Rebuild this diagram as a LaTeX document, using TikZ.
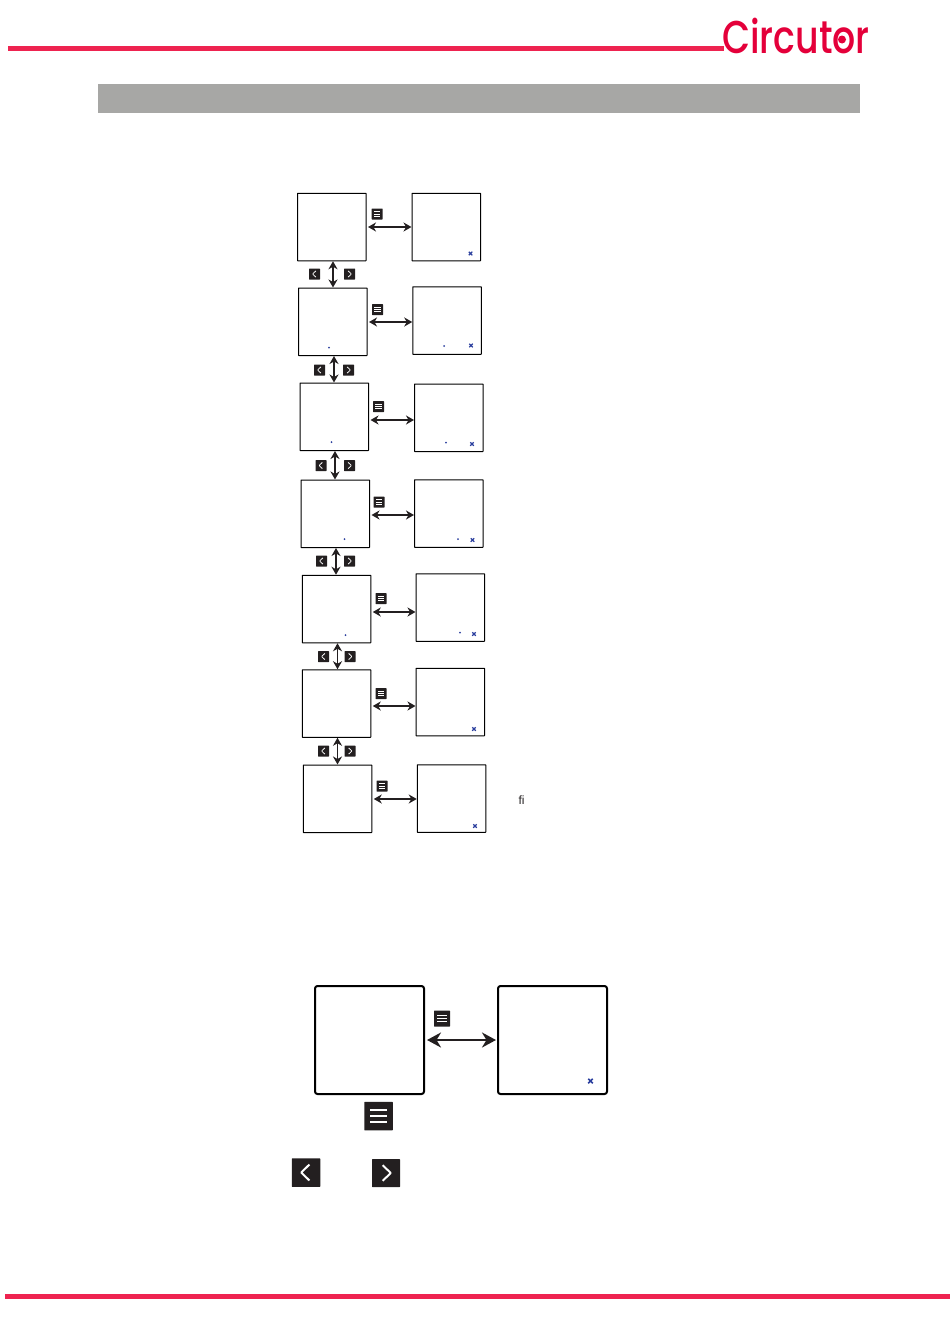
\documentclass[tikz,border=0pt]{standalone}
\usepackage{fontspec}
\setmainfont{Liberation Sans}
\newfontfamily\logofont{Poppins Medium}
\usepackage{xcolor}
\usetikzlibrary{arrows.meta, positioning, calc, shapes.misc}
\definecolor{circutred}{HTML}{EE2350}
\definecolor{logored}{HTML}{E4003A}
\definecolor{bandgray}{HTML}{A7A7A5}
\definecolor{icondark}{HTML}{231F20}
\definecolor{markblue}{HTML}{2B3F9E}
\tikzset{
  screenbox/.style={
    draw=black, rectangle, rounded corners=0.3pt, line width=1pt,
    minimum width=68.5pt, minimum height=67.5pt, inner sep=0pt
  },
  bigscreen/.style={
    draw=black, rectangle, rounded corners=2.5pt, line width=2pt,
    minimum width=109pt, minimum height=108pt, inner sep=0pt
  },
  keyarrow/.style={
    {Stealth[length=8pt, width=9pt, inset=2.5pt]}-{Stealth[length=8pt, width=9pt, inset=2.5pt]},
    line width=1.6pt, color=icondark
  },
  bigarrow/.style={
    {Stealth[length=14pt, width=15pt, inset=4.5pt]}-{Stealth[length=14pt, width=15pt, inset=4.5pt]},
    line width=2.7pt, color=icondark
  },
  keybase/.style={
    rectangle, fill=icondark, inner sep=0pt, rounded corners=0.5pt,
    minimum width=#1 pt, minimum height=#1 pt
  },
  menukey/.style={
    keybase=#1,
    path picture={
      \foreach \k in {-0.2,0,0.2}
        \draw[white, line width=0.07*#1 pt]
          ([shift={(-0.29*#1 pt,\k*#1 pt)}]path picture bounding box.center)
          -- ([shift={(0.29*#1 pt,\k*#1 pt)}]path picture bounding box.center);
    }
  },
  prevkey/.style={
    keybase=#1,
    path picture={
      \draw[white, line width=0.07*#1 pt]
        ([shift={(0.12*#1 pt,0.28*#1 pt)}]path picture bounding box.center)
        -- ([shift={(-0.17*#1 pt,0pt)}]path picture bounding box.center)
        -- ([shift={(0.12*#1 pt,-0.28*#1 pt)}]path picture bounding box.center);
    }
  },
  nextkey/.style={
    keybase=#1,
    path picture={
      \draw[white, line width=0.07*#1 pt]
        ([shift={(-0.12*#1 pt,0.28*#1 pt)}]path picture bounding box.center)
        -- ([shift={(0.17*#1 pt,0pt)}]path picture bounding box.center)
        -- ([shift={(-0.12*#1 pt,-0.28*#1 pt)}]path picture bounding box.center);
    }
  },
  bluecross/.style={
    cross out, draw=markblue, line width=1.1pt, inner sep=0pt,
    minimum size=2.4pt
  },
  bluedot/.style={
    circle, fill=markblue, inner sep=0pt, minimum size=2pt
  },
}
\begin{document}
\begin{tikzpicture}[x=1pt, y=-1pt]
  \useasboundingbox (0,0) rectangle (950,1344);

  % ── Page furniture ─────────────────────────────────────────────
  \fill[bandgray] (98,83.5) rectangle (860,113);
  \coordinate (toprule) at (8,48.5);
  \coordinate (logoleft) at (724,48.5);
  \draw[circutred, line width=5pt] (toprule) -- (logoleft);
  \coordinate (botrule) at (5,1296);
  \coordinate (botend) at (950,1296);
  \draw[circutred, line width=5pt] (botrule) -- (botend);
  \node[font=\logofont\fontsize{46}{46}\selectfont, text=logored,
        inner sep=0pt, anchor=base west, xscale=0.79] (logo) at (722,53) {Circutor};
  \node[circle, fill=logored, inner sep=0pt, minimum size=8pt] (logodot) at (842,39.5) {};

  % ── Seven rows of screens ──────────────────────────────────────
  \foreach \row/\lx/\ly/\rx/\ry/\ay/\mx/\my in {
    1/331.75/227/446.25/227/227/377/214,
    2/332.75/321.75/447/320.5/322/377.5/309.5,
    3/334.25/416.75/448.75/417.75/420/378.5/406.5,
    4/335.25/513.75/448.75/513.5/515/379/502,
    5/336.5/609/450.25/607.5/612/381/598.5,
    6/336.5/703.5/450.25/702/706/381/693.5,
    7/337.5/798.75/451.5/798.5/799/382/786} {
    \node[screenbox] (left\row) at (\lx,\ly) {};
    \node[screenbox] (right\row) at (\rx,\ry) {};
    \node[menukey=11] (menu\row) at (\mx,\my) {};
    \coordinate (level\row) at (0,\ay);
    \draw[keyarrow, shorten <=1.5pt] (left\row.east |- level\row) -- (right\row.west |- level\row);
  }

  % Arrows and keys between the rows
  \foreach \row/\next/\ax/\px/\nx/\ky in {
    1/2/333/314.5/349.5/274,
    2/3/334/319.5/348.5/370,
    3/4/335/321/349.5/465.5,
    4/5/336/321.5/349.5/561,
    5/6/337.5/323.5/350/656.5,
    6/7/337.5/323.5/350/751} {
    \coordinate (column\row) at (\ax,0);
    \draw[keyarrow] (column\row |- left\row.south) -- (column\row |- left\next.north);
    \node[prevkey=11] (prev\row) at (\px,\ky) {};
    \node[nextkey=11] (next\row) at (\nx,\ky) {};
  }

  % Blue marks
  \foreach \i/\x/\y in {1/470.5/253.5, 2/471/345.5, 3/472/444, 4/472.5/540,
                        5/474/634, 6/474/729, 7/475/826}
    \node[bluecross] (cross\i) at (\x,\y) {};
  \foreach \i/\x/\y in {1/329/347.5, 2/444/346, 3/331.5/442, 4/446/442.5,
                        5/344.5/539, 6/458/539, 7/345.5/635, 8/460/632.5}
    \node[bluedot] (dot\i) at (\x,\y) {};

  \node[font=\fontsize{12}{12}\selectfont, text=icondark, inner sep=0pt] (filabel) at (521.5,800) {fi};

  % ── Enlarged pair ──────────────────────────────────────────────
  \node[bigscreen] (bigleft) at (369.5,1040) {};
  \node[bigscreen] (bigright) at (552.5,1040) {};
  \draw[bigarrow, shorten <=2pt, shorten >=1pt] (bigleft.east) -- (bigright.west);
  \node[menukey=16] (bigmenu) at (442,1018.5) {};
  \node[bluecross, minimum size=3pt, line width=1.5pt] (bigcross) at (590.5,1081) {};

  % Keys underneath
  \node[menukey=28.5] (keymenu) at (378.5,1116) {};
  \node[prevkey=28.5] (keyprev) at (306,1172.5) {};
  \node[nextkey=28] (keynext) at (386,1173) {};
\end{tikzpicture}
\end{document}
